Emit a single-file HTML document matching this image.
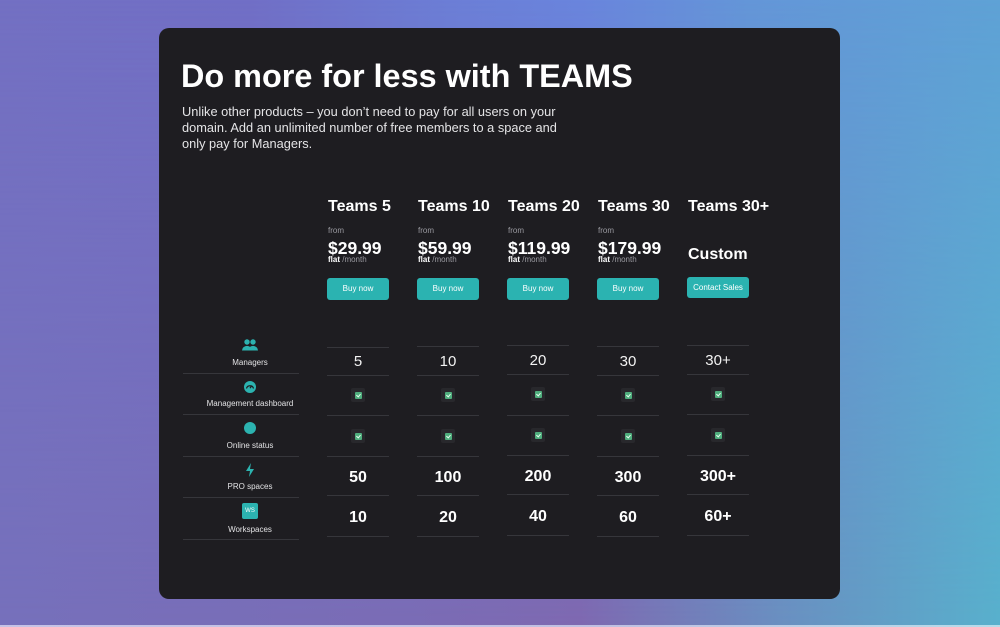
<!DOCTYPE html>
<html><head><meta charset="utf-8">
<style>
*{margin:0;padding:0;box-sizing:border-box}
html,body{width:1000px;height:627px;overflow:hidden}
body{position:relative;font-family:"Liberation Sans",sans-serif;color:#fff;background:#6f7ccc}
.bg1{position:absolute;left:0;top:0;width:1000px;height:627px;background:linear-gradient(90deg,#7370c3 0%,#716fc6 25%,#6c7ed6 45%,#6a85dd 58%,#6496d8 75%,#5fa2d6 100%)}
.bg2{position:absolute;left:0;top:0;width:1000px;height:627px;background:linear-gradient(90deg,#7670bb 0%,#7a6cb5 40%,#7e68b0 58%,#6a8fc0 78%,#58b0cc 100%);-webkit-mask-image:linear-gradient(to bottom,rgba(0,0,0,0) 0%,rgba(0,0,0,1) 100%);mask-image:linear-gradient(to bottom,rgba(0,0,0,0) 0%,rgba(0,0,0,1) 100%)}
.bline{position:absolute;left:0;top:625px;width:1000px;height:2px;background:linear-gradient(90deg,#c6c3e6,#c0c0e2 60%,#b6dcea)}
.card{position:absolute;left:159px;top:28px;width:681px;height:571px;background:#1e1d21;border-radius:10px}
.a{position:absolute;white-space:nowrap}
.title{left:181px;top:60px;font-size:32.4px;line-height:32px;font-weight:bold;color:#fff}
.sub{left:182px;top:103.5px;font-size:12.8px;line-height:16px;color:#e4e4e6}
.h{font-size:16px;line-height:16px;font-weight:bold}
.from{font-size:8px;line-height:8px;color:#9a9aa0}
.price{font-size:17.5px;line-height:17.5px;font-weight:bold}
.flat{font-size:8px;line-height:8px;color:#9a9aa0}
.flat b{color:#fff}
.btn{position:absolute;width:62px;height:22px;background:#2bb3b1;border-radius:3px;font-size:8px;line-height:22px;text-align:center;color:#fff}
.lbl{width:116px;text-align:center;font-size:8px;line-height:8px;color:#e2e2e4}
.hl{position:absolute;height:1px;background:#36363b}
.val{width:62px;text-align:center}
.v1{font-size:15px;line-height:15px;font-weight:normal;color:#f2f2f2}
.v2{font-size:16px;line-height:16px;font-weight:bold;color:#fff}
.cb{position:absolute;width:14px;height:14px;background:#28282c;border-radius:2px}
.cb i{position:absolute;left:4px;top:4px;width:7px;height:7px;background:#4fae7d;border-radius:1px}
.cb i:after{content:"";position:absolute;left:2px;top:1px;width:2px;height:3px;border-right:1px solid #e8fff0;border-bottom:1px solid #e8fff0;transform:rotate(40deg)}
</style></head><body>
<div class="bg1"></div><div class="bg2"></div><div class="bline"></div>
<div class="card"></div>

<div class="a title">Do more for less with TEAMS</div>
<div class="a sub">Unlike other products – you don’t need to pay for all users on your<br>domain. Add an unlimited number of free members to a space and<br>only pay for Managers.</div>

<!-- headers -->
<div class="a h" style="left:328px;top:198.5px">Teams 5</div>
<div class="a h" style="left:418px;top:198.5px">Teams 10</div>
<div class="a h" style="left:508px;top:198.5px">Teams 20</div>
<div class="a h" style="left:598px;top:198.5px">Teams 30</div>
<div class="a h" style="left:688px;top:198.5px">Teams 30+</div>

<div class="a from" style="left:328px;top:227px">from</div>
<div class="a from" style="left:418px;top:227px">from</div>
<div class="a from" style="left:508px;top:227px">from</div>
<div class="a from" style="left:598px;top:227px">from</div>

<div class="a price" style="left:328px;top:239.7px">$29.99</div>
<div class="a price" style="left:418px;top:239.7px">$59.99</div>
<div class="a price" style="left:508px;top:239.7px">$119.99</div>
<div class="a price" style="left:598px;top:239.7px">$179.99</div>
<div class="a h" style="left:688px;top:246.5px">Custom</div>

<div class="a flat" style="left:328px;top:256px"><b>flat</b> /month</div>
<div class="a flat" style="left:418px;top:256px"><b>flat</b> /month</div>
<div class="a flat" style="left:508px;top:256px"><b>flat</b> /month</div>
<div class="a flat" style="left:598px;top:256px"><b>flat</b> /month</div>

<div class="btn" style="left:327px;top:278px">Buy now</div>
<div class="btn" style="left:417px;top:278px">Buy now</div>
<div class="btn" style="left:507px;top:278px">Buy now</div>
<div class="btn" style="left:597px;top:278px">Buy now</div>
<div class="btn" style="left:687px;top:277px;height:21px;line-height:21px">Contact Sales</div>

<!-- left labels -->
<svg class="a" style="left:242px;top:339px" width="16" height="12" viewBox="0 0 16 12" fill="#2cb3b0">
<circle cx="5" cy="3" r="2.7"/><circle cx="11" cy="3" r="2.7"/>
<path d="M0 11.5 a5 4.6 0 0 1 10 0z"/><path d="M6 11.5 a5 4.6 0 0 1 10 0z"/></svg>
<div class="a lbl" style="left:192px;top:358.5px">Managers</div>

<svg class="a" style="left:244px;top:381px" width="12" height="12" viewBox="0 0 12 12">
<circle cx="6" cy="6" r="6" fill="#2cb3b0"/>
<path d="M2.5 7.5 a3.6 3.6 0 0 1 7 0" stroke="#1e1d21" stroke-width="1.2" fill="none"/>
<path d="M6 7.2 L7.8 4.6" stroke="#1e1d21" stroke-width="1.2"/></svg>
<div class="a lbl" style="left:192px;top:399.5px">Management dashboard</div>

<svg class="a" style="left:244px;top:422px" width="12" height="12" viewBox="0 0 12 12"><circle cx="6" cy="6" r="6" fill="#2cb3b0"/></svg>
<div class="a lbl" style="left:192px;top:441.5px">Online status</div>

<svg class="a" style="left:245px;top:463px" width="10" height="14" viewBox="0 0 10 14"><polygon points="6,0 1,8 5,8 4,14 9,6 5,6" fill="#2cb3b0"/></svg>
<div class="a lbl" style="left:192px;top:482.5px">PRO spaces</div>

<div class="a" style="left:242px;top:503px;width:16px;height:16px;background:#2cb3b0;border-radius:2px;font-size:6px;line-height:16px;text-align:center;color:#fff">WS</div>
<div class="a lbl" style="left:192px;top:525.5px">Workspaces</div>

<div class="hl" style="left:183px;top:373px;width:116px"></div>
<div class="hl" style="left:183px;top:414px;width:116px"></div>
<div class="hl" style="left:183px;top:456px;width:116px"></div>
<div class="hl" style="left:183px;top:497px;width:116px"></div>
<div class="hl" style="left:183px;top:539px;width:116px"></div>

<!-- value column lines -->
<div class="hl" style="left:327px;top:347px;width:62px"></div><div class="hl" style="left:327px;top:375px;width:62px"></div><div class="hl" style="left:327px;top:415px;width:62px"></div><div class="hl" style="left:327px;top:456px;width:62px"></div><div class="hl" style="left:327px;top:495px;width:62px"></div><div class="hl" style="left:327px;top:536px;width:62px"></div>
<div class="hl" style="left:417px;top:346px;width:62px"></div><div class="hl" style="left:417px;top:375px;width:62px"></div><div class="hl" style="left:417px;top:415px;width:62px"></div><div class="hl" style="left:417px;top:456px;width:62px"></div><div class="hl" style="left:417px;top:495px;width:62px"></div><div class="hl" style="left:417px;top:536px;width:62px"></div>
<div class="hl" style="left:507px;top:345px;width:62px"></div><div class="hl" style="left:507px;top:374px;width:62px"></div><div class="hl" style="left:507px;top:415px;width:62px"></div><div class="hl" style="left:507px;top:455px;width:62px"></div><div class="hl" style="left:507px;top:494px;width:62px"></div><div class="hl" style="left:507px;top:535px;width:62px"></div>
<div class="hl" style="left:597px;top:346px;width:62px"></div><div class="hl" style="left:597px;top:375px;width:62px"></div><div class="hl" style="left:597px;top:415px;width:62px"></div><div class="hl" style="left:597px;top:456px;width:62px"></div><div class="hl" style="left:597px;top:495px;width:62px"></div><div class="hl" style="left:597px;top:536px;width:62px"></div>
<div class="hl" style="left:687px;top:345px;width:62px"></div><div class="hl" style="left:687px;top:374px;width:62px"></div><div class="hl" style="left:687px;top:414px;width:62px"></div><div class="hl" style="left:687px;top:455px;width:62px"></div><div class="hl" style="left:687px;top:494px;width:62px"></div><div class="hl" style="left:687px;top:535px;width:62px"></div>

<!-- row 1 -->
<div class="a val v1" style="left:327px;top:354px">5</div>
<div class="a val v1" style="left:417px;top:354px">10</div>
<div class="a val v1" style="left:507px;top:352.5px">20</div>
<div class="a val v1" style="left:597px;top:354px">30</div>
<div class="a val v1" style="left:687px;top:352.5px">30+</div>

<!-- checkboxes -->
<div class="cb" style="left:351px;top:388px"><i></i></div>
<div class="cb" style="left:441px;top:388px"><i></i></div>
<div class="cb" style="left:531px;top:387px"><i></i></div>
<div class="cb" style="left:621px;top:388px"><i></i></div>
<div class="cb" style="left:711px;top:387px"><i></i></div>
<div class="cb" style="left:351px;top:429px"><i></i></div>
<div class="cb" style="left:441px;top:429px"><i></i></div>
<div class="cb" style="left:531px;top:428px"><i></i></div>
<div class="cb" style="left:621px;top:429px"><i></i></div>
<div class="cb" style="left:711px;top:428px"><i></i></div>

<!-- row 4 -->
<div class="a val v2" style="left:327px;top:469.5px">50</div>
<div class="a val v2" style="left:417px;top:469.5px">100</div>
<div class="a val v2" style="left:507px;top:468.5px">200</div>
<div class="a val v2" style="left:597px;top:469.5px">300</div>
<div class="a val v2" style="left:687px;top:468.5px">300+</div>

<!-- row 5 -->
<div class="a val v2" style="left:327px;top:509.5px">10</div>
<div class="a val v2" style="left:417px;top:509.5px">20</div>
<div class="a val v2" style="left:507px;top:508.5px">40</div>
<div class="a val v2" style="left:597px;top:509.5px">60</div>
<div class="a val v2" style="left:687px;top:508.5px">60+</div>

</body></html>
